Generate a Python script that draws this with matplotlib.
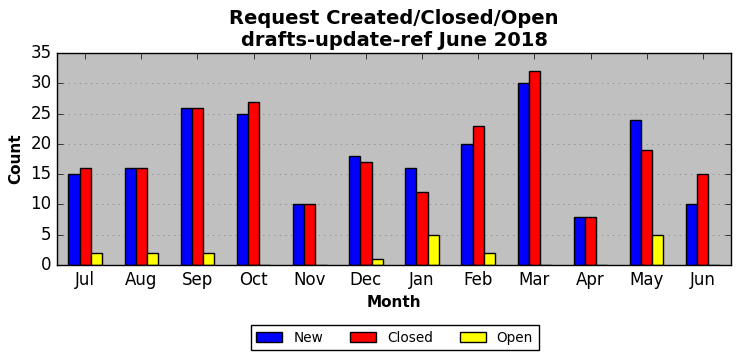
import numpy as np
import matplotlib
matplotlib.use('Agg')
import matplotlib.pyplot as plt

plt.style.use('classic')

# data
months = ['Jul', 'Aug', 'Sep', 'Oct', 'Nov', 'Dec', 'Jan', 'Feb', 'Mar', 'Apr', 'May', 'Jun']
new = [15, 16, 26, 25, 10, 18, 16, 20, 30, 8, 24, 10]
closed = [16, 16, 26, 27, 10, 17, 12, 23, 32, 8, 19, 15]
opened = [2, 2, 2, 0, 0, 1, 5, 2, 0, 0, 5, 0]

fig = plt.figure(figsize=(7.42, 3.61), dpi=100, facecolor='white')
ax = fig.add_axes([0.077, 0.266, 0.908, 0.587])
ax.set_facecolor('silver')

x = np.arange(len(months))
w = 0.2
ax.bar(x - w, new, w, align='center', color='blue', edgecolor='black', label='New')
ax.bar(x, closed, w, align='center', color='red', edgecolor='black', label='Closed')
ax.bar(x + w, opened, w, align='center', color='yellow', edgecolor='black', label='Open')

ax.set_xlim(-0.5, len(months) - 0.5)
ax.set_ylim(0, 35)
ax.set_xticks(x)
ax.set_xticklabels(months)
ax.yaxis.grid(True, color='gray', linestyle=':')
ax.set_axisbelow(True)
ax.tick_params(labelsize=12)

ax.set_xlabel('Month', fontweight='bold', fontsize=11)
ax.set_ylabel('Count', fontweight='bold', fontsize=11)
ax.set_title('Request Created/Closed/Open\ndrafts-update-ref June 2018', fontweight='bold', fontsize=14)

fig.legend(loc='center', bbox_to_anchor=(0.532, 0.064), ncol=3, fontsize=9.8,
           handlelength=1.9)

plt.savefig('out.png', dpi=100, facecolor='white')
